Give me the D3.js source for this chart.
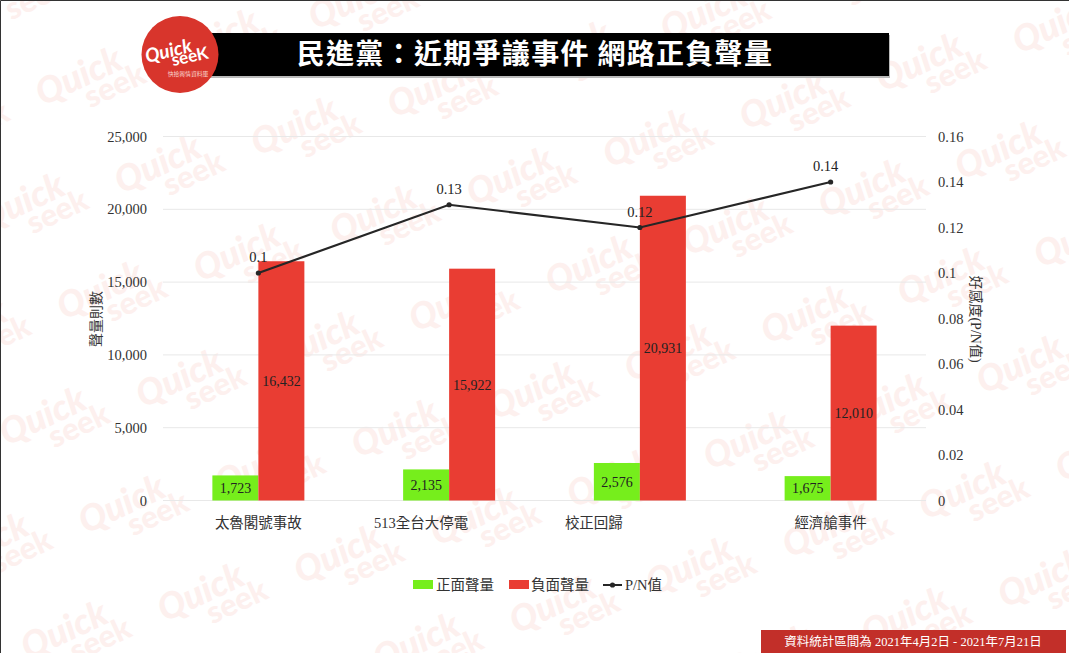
<!DOCTYPE html>
<html><head><meta charset="utf-8">
<script src="https://cdn.jsdelivr.net/npm/d3@7"></script>
<style>html,body{margin:0;padding:0;background:#fff;overflow:hidden}svg{display:block}text{font-family:"Liberation Serif","Noto Sans CJK TC",serif}</style>
</head><body><div id="c"></div>
<script>
const categories=["太魯閣號事故","513全台大停電","校正回歸","經濟艙事件"];
const positive=[1723,2135,2576,1675];
const negative=[16432,15922,20931,12010];
const pn=[0.1,0.13,0.12,0.14];
const leftTicks=[0,5000,10000,15000,20000,25000];
const rightTicks=[0,0.02,0.04,0.06,0.08,0.1,0.12,0.14,0.16];
const W=1069,H=653;
const svg=d3.select("#c").append("svg").attr("width",W).attr("height",H);
svg.append("rect").attr("width",W).attr("height",H).attr("fill","#fff");

// watermark lattice
const wm=svg.append("g").attr("fill","#fdf0ee");
for(let j=-2;j<8;j++)for(let i=-3;i<10;i++){
  const x=168+i*136.5+j*79, y=175-i*38+j*88;
  if(x<-50||x>W+50||y<-30||y>H+30)continue;
  const g=wm.append("g").attr("transform",`translate(${x},${y}) rotate(-25)`);
  g.append("text").attr("x",-50).attr("y",-2).text("Quick").style("font-family","Lato,sans-serif").attr("font-weight",900).attr("font-style","italic").attr("font-size",36);
  g.append("text").attr("x",-8).attr("y",20).text("seek").style("font-family","Lato,sans-serif").attr("font-weight",900).attr("font-size",31);
}

const x=d3.scaleBand().domain(categories).range([163,926]);
const y=d3.scaleLinear().domain([0,25000]).range([500.5,136.5]);
const y2=d3.scaleLinear().domain([0,0.16]).range([500.5,136.5]);
const barW=46, cx=c=>x(c)+x.bandwidth()/2;

// grid
svg.append("g").selectAll("line").data(leftTicks).join("line")
 .attr("x1",163).attr("x2",926).attr("y1",d=>y(d)).attr("y2",d=>y(d))
 .attr("stroke","#e8e8e8").attr("stroke-width",1);

// axes
const fmt=d3.format(",");
const ax=svg.append("g").attr("transform","translate(147,0)")
 .call(d3.axisLeft(y).tickValues(leftTicks).tickFormat(fmt).tickSize(0).tickPadding(0));
ax.select(".domain").remove();
const ax2=svg.append("g").attr("transform","translate(938,0)")
 .call(d3.axisRight(y2).tickValues(rightTicks).tickFormat(d=>String(d)).tickSize(0).tickPadding(0));
ax2.select(".domain").remove();
const ax3=svg.append("g").attr("transform","translate(0,500.5)")
 .call(d3.axisBottom(x).tickSize(0).tickPadding(13));
ax3.select(".domain").remove();
svg.selectAll(".tick text").attr("fill","#333").attr("font-size",14.5)
 .style("font-family",'"Liberation Serif","Noto Sans CJK TC",serif');
// the reference's category labels sit off-centre for the middle two groups
const catNudge=[0,-28,-46,0];
ax3.selectAll(".tick text").attr("dx",(d,i)=>catNudge[i]).attr("dy","1em");

// bars
svg.append("g").selectAll("rect").data(categories).join("rect")
 .attr("x",c=>cx(c)-barW).attr("width",barW)
 .attr("y",(c,i)=>y(positive[i])).attr("height",(c,i)=>y(0)-y(positive[i])).attr("fill","#76ee1c");
svg.append("g").selectAll("rect").data(categories).join("rect")
 .attr("x",c=>cx(c)).attr("width",barW)
 .attr("y",(c,i)=>y(negative[i])).attr("height",(c,i)=>y(0)-y(negative[i])).attr("fill","#e93d33");

// bar labels
svg.append("g").selectAll("text").data(categories).join("text")
 .attr("x",c=>cx(c)-barW/2).attr("y",(c,i)=>(y(positive[i])+y(0))/2+5)
 .attr("text-anchor","middle").attr("font-size",14).attr("fill","#222").text((c,i)=>fmt(positive[i]));
svg.append("g").selectAll("text").data(categories).join("text")
 .attr("x",c=>cx(c)+barW/2).attr("y",(c,i)=>(y(negative[i])+y(0))/2+5)
 .attr("text-anchor","middle").attr("font-size",14).attr("fill","#222").text((c,i)=>fmt(negative[i]));

// line
const line=d3.line().x((d,i)=>cx(categories[i])).y(d=>y2(d));
svg.append("path").attr("d",line(pn)).attr("fill","none").attr("stroke","#262626").attr("stroke-width",2.2);
svg.append("g").selectAll("circle").data(pn).join("circle")
 .attr("cx",(d,i)=>cx(categories[i])).attr("cy",d=>y2(d)).attr("r",2.6).attr("fill","#262626");
svg.append("g").selectAll("text").data(pn).join("text")
 .attr("x",(d,i)=>cx(categories[i])-(i==3?5:0)).attr("y",d=>y2(d)-11)
 .attr("text-anchor","middle").attr("font-size",14.5).attr("fill","#222").text(d=>d);

// axis titles
svg.append("text").attr("transform","translate(101,319) rotate(-90)").attr("text-anchor","middle").attr("font-size",14).attr("fill","#333").text("聲量則數");
svg.append("text").attr("transform","translate(971,319) rotate(90)").attr("text-anchor","middle").attr("font-size",14).attr("fill","#333").text("好感度(P/N值)");

// legend
const lg=svg.append("g");
lg.append("rect").attr("x",413).attr("y",580).attr("width",20).attr("height",9).attr("fill","#76ee1c");
lg.append("text").attr("x",436).attr("y",590).attr("font-size",14.5).attr("fill","#333").text("正面聲量");
lg.append("rect").attr("x",509).attr("y",580).attr("width",20).attr("height",9).attr("fill","#e93d33");
lg.append("text").attr("x",531).attr("y",590).attr("font-size",14.5).attr("fill","#333").text("負面聲量");
lg.append("line").attr("x1",603).attr("x2",622).attr("y1",585).attr("y2",585).attr("stroke","#262626").attr("stroke-width",2);
lg.append("circle").attr("cx",612.5).attr("cy",585).attr("r",2.6).attr("fill","#262626");
lg.append("text").attr("x",625).attr("y",590).attr("font-size",14.5).attr("fill","#333").text("P/N值");

// title bar + logo
svg.append("rect").attr("x",208).attr("y",35).attr("width",682).attr("height",43).attr("fill","#bbb");
svg.append("rect").attr("x",208).attr("y",33).attr("width",681).attr("height",43).attr("fill","#000");
svg.append("text").attr("x",535).attr("y",64).attr("text-anchor","middle").attr("fill","#fff")
 .attr("font-size",28).attr("font-weight",700).style("font-family",'"Noto Sans CJK TC",sans-serif').attr("letter-spacing",1.3)
 .text("民進黨：近期爭議事件 網路正負聲量");
svg.append("circle").attr("cx",180).attr("cy",54.5).attr("r",38.5).attr("fill","#d8352c");
const lt=svg.append("g").attr("fill","#fff");
lt.append("text").attr("transform","translate(147,63) rotate(-14)").attr("font-size",19).attr("font-weight",700).attr("font-style","italic").style("font-family","Lato,sans-serif").text("Quick");
lt.append("text").attr("transform","translate(173,66) rotate(-12)").attr("font-size",17).attr("font-weight",700).style("font-family","Lato,sans-serif").text("seeK");
svg.append("text").attr("x",188).attr("y",76).attr("text-anchor","middle").attr("fill","#f8d5d0").attr("font-size",5.8).style("font-family",'"Noto Sans CJK TC",sans-serif').text("快拾輿情資料庫");

// footer
svg.append("rect").attr("x",761).attr("y",630).attr("width",305).attr("height",23).attr("fill","#c22f29");
svg.append("text").attr("x",913).attr("y",646).attr("text-anchor","middle").attr("fill","#fff").attr("font-size",12.5).text("資料統計區間為 2021年4月2日 - 2021年7月21日");

// frame
svg.append("path").attr("d",`M0.5,${H}V0.5H${W}`).attr("fill","none").attr("stroke","#333").attr("stroke-width",1);
</script></body></html>
